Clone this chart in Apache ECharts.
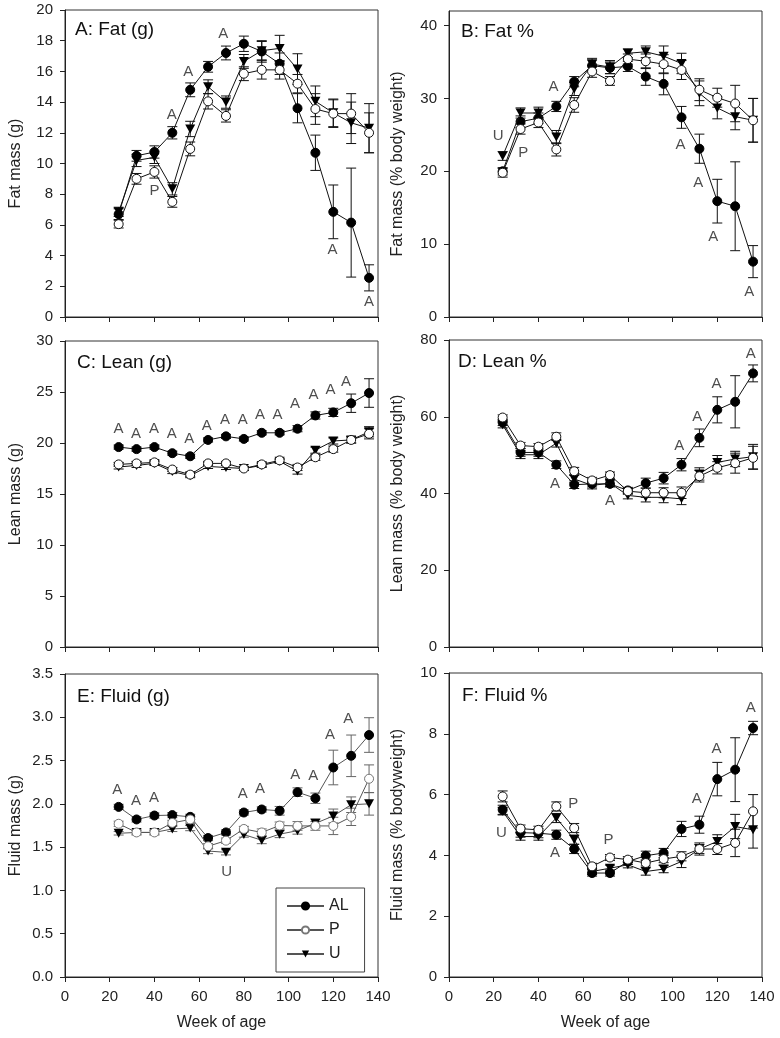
<!DOCTYPE html>
<html>
<head>
<meta charset="utf-8">
<script src="https://cdn.jsdelivr.net/npm/echarts@6/dist/echarts.min.js"></script>
<style>
html,body{margin:0;padding:0;background:#fff;}
#chart{width:780px;height:1038px;}
</style>
</head>
<body>
<div id="chart"></div>
<script>
// ---------------- DATA ----------------
const weeks = [24, 32, 40, 48, 56, 64, 72, 80, 88, 96, 104, 112, 120, 128, 136];
const groups = ['AL', 'P', 'U'];
const xTicks = [0, 20, 40, 60, 80, 100, 120, 140];

// A: Fat (g)
const fatG_AL    = [6.7, 10.5, 10.75, 12.0, 14.8, 16.3, 17.2, 17.8, 17.3, 16.5, 13.6, 10.7, 6.85, 6.15, 2.55];
const fatG_AL_se = [0.35, 0.35, 0.4, 0.4, 0.45, 0.35, 0.45, 0.5, 0.7, 0.7, 0.95, 1.15, 1.75, 3.55, 0.85];
const fatG_P     = [6.05, 9.0, 9.45, 7.5, 10.95, 14.05, 13.1, 15.85, 16.1, 16.1, 15.2, 13.55, 13.25, 13.25, 12.0];
const fatG_P_se  = [0.25, 0.35, 0.4, 0.35, 0.45, 0.5, 0.4, 0.45, 0.6, 0.6, 0.6, 1.0, 0.9, 1.3, 1.3];
const fatG_U     = [6.85, 10.2, 10.4, 8.35, 12.25, 15.0, 14.0, 16.65, 17.35, 17.5, 16.15, 14.05, 13.3, 12.65, 12.3];
const fatG_U_se  = [0.3, 0.4, 0.4, 0.4, 0.5, 0.45, 0.4, 0.45, 0.6, 0.85, 1.0, 1.0, 0.9, 1.35, 1.6];
const fatG_notes = [[47.7, 13.2, 'A'], [55.1, 16.0, 'A'], [70.8, 18.45, 'A'], [40, 8.2, 'P'], [119.7, 4.35, 'A'], [136, 1.0, 'A']];

// B: Fat %
const fatPct_AL    = [20.0, 26.8, 27.3, 28.9, 32.3, 34.5, 34.2, 34.4, 33.0, 32.0, 27.4, 23.1, 15.9, 15.2, 7.6];
const fatPct_AL_se = [0.5, 0.8, 0.7, 0.7, 0.7, 0.8, 0.8, 0.7, 1.2, 1.5, 1.5, 2.0, 3.0, 6.1, 2.2];
const fatPct_P     = [19.8, 25.8, 26.7, 23.0, 29.1, 33.7, 32.4, 35.4, 35.1, 34.7, 33.9, 31.2, 30.1, 29.3, 27.0];
const fatPct_P_se  = [0.6, 0.7, 0.7, 0.9, 1.0, 0.8, 0.6, 0.7, 1.0, 1.3, 1.3, 1.5, 1.3, 2.5, 3.0];
const fatPct_U     = [22.1, 28.0, 28.0, 24.7, 31.3, 34.7, 34.3, 36.2, 36.4, 35.8, 34.8, 30.7, 28.7, 27.5, 27.0];
const fatPct_U_se  = [0.6, 0.7, 0.8, 0.9, 0.9, 0.8, 0.9, 0.6, 0.8, 1.4, 1.4, 1.7, 1.5, 1.8, 3.0];
const fatPct_notes = [[22, 24.8, 'U'], [33.2, 22.5, 'P'], [46.7, 31.6, 'A'], [103.6, 23.6, 'A'], [111.5, 18.4, 'A'], [118.2, 11, 'A'], [134.3, 3.5, 'A']];

// C: Lean (g)
const leanG_AL    = [19.6, 19.4, 19.6, 19.0, 18.7, 20.3, 20.65, 20.4, 21.0, 21.0, 21.4, 22.7, 23.0, 23.9, 24.9];
const leanG_AL_se = [0.2, 0.2, 0.2, 0.2, 0.2, 0.2, 0.2, 0.2, 0.2, 0.2, 0.3, 0.35, 0.4, 0.9, 1.4];
const leanG_P     = [17.9, 18.0, 18.1, 17.4, 16.9, 18.0, 18.0, 17.5, 17.9, 18.3, 17.6, 18.6, 19.4, 20.3, 20.9];
const leanG_P_se  = [0.2, 0.2, 0.2, 0.2, 0.2, 0.2, 0.2, 0.2, 0.2, 0.2, 0.3, 0.3, 0.3, 0.3, 0.5];
const leanG_U     = [17.65, 17.8, 18.0, 17.2, 16.8, 17.7, 17.6, 17.5, 17.8, 18.2, 17.25, 19.3, 20.2, 20.3, 21.1];
const leanG_U_se  = [0.2, 0.2, 0.2, 0.2, 0.2, 0.2, 0.2, 0.2, 0.2, 0.2, 0.3, 0.3, 0.3, 0.3, 0.5];
const leanG_notes = [[23.9, 21.34, 'A'], [31.8, 20.9, 'A'], [39.8, 21.34, 'A'], [47.7, 20.85, 'A'], [55.6, 20.4, 'A'], [63.4, 21.67, 'A'], [71.6, 22.3, 'A'], [79.5, 22.3, 'A'], [87.2, 22.8, 'A'], [95.0, 22.8, 'A'], [102.9, 23.8, 'A'], [111.1, 24.7, 'A'], [118.8, 25.2, 'A'], [125.7, 26.0, 'A']];

// D: Lean %
const leanPct_AL    = [58.5, 50.7, 50.7, 47.5, 42.3, 42.5, 42.5, 40.8, 42.7, 44.0, 47.5, 54.5, 61.8, 63.9, 71.3];
const leanPct_AL_se = [0.8, 1.0, 1.0, 1.0, 1.0, 0.8, 0.8, 0.8, 1.3, 1.5, 1.6, 2.3, 3.4, 6.8, 2.2];
const leanPct_P     = [59.8, 52.5, 52.2, 54.8, 45.8, 43.4, 44.8, 40.6, 40.2, 40.2, 40.2, 44.5, 46.7, 47.9, 49.3];
const leanPct_P_se  = [0.7, 0.8, 0.8, 1.0, 1.0, 0.8, 0.8, 0.8, 1.2, 1.3, 1.5, 1.5, 1.6, 2.6, 3.0];
const leanPct_U     = [57.9, 50.1, 50.1, 53.1, 43.8, 42.1, 42.7, 39.5, 39.0, 39.0, 38.6, 45.1, 48.1, 49.0, 49.6];
const leanPct_U_se  = [0.8, 1.0, 1.0, 1.0, 1.0, 0.9, 0.9, 0.9, 1.2, 1.4, 1.5, 1.6, 1.8, 2.0, 3.2];
const leanPct_notes = [[47.4, 42.5, 'A'], [72, 38.2, 'A'], [103, 52.5, 'A'], [111, 60, 'A'], [119.7, 68.5, 'A'], [135, 76.5, 'A']];

// E: Fluid (g)
const fluidG_AL    = [1.965, 1.82, 1.865, 1.87, 1.85, 1.605, 1.67, 1.90, 1.935, 1.92, 2.135, 2.065, 2.42, 2.555, 2.795];
const fluidG_AL_se = [0.03, 0.03, 0.03, 0.03, 0.03, 0.03, 0.03, 0.03, 0.03, 0.05, 0.05, 0.06, 0.2, 0.24, 0.2];
const fluidG_P     = [1.77, 1.67, 1.67, 1.78, 1.82, 1.51, 1.575, 1.71, 1.67, 1.75, 1.745, 1.745, 1.745, 1.85, 2.29];
const fluidG_P_se  = [0.03, 0.03, 0.03, 0.03, 0.03, 0.03, 0.03, 0.03, 0.04, 0.04, 0.05, 0.05, 0.1, 0.1, 0.16];
const fluidG_U     = [1.66, 1.67, 1.67, 1.71, 1.72, 1.455, 1.44, 1.645, 1.58, 1.65, 1.69, 1.775, 1.86, 1.99, 2.0];
const fluidG_U_se  = [0.02, 0.02, 0.02, 0.03, 0.03, 0.03, 0.03, 0.03, 0.04, 0.04, 0.04, 0.05, 0.08, 0.09, 0.13];
const fluidG_notes = [[23.4, 2.16, 'A'], [31.8, 2.035, 'A'], [39.8, 2.07, 'A'], [72.3, 1.22, 'U'], [79.5, 2.11, 'A'], [87.2, 2.17, 'A'], [103, 2.34, 'A'], [111, 2.32, 'A'], [118.5, 2.8, 'A'], [126.7, 2.98, 'A']];

// F: Fluid %
const fluidPct_AL    = [5.5, 4.75, 4.73, 4.68, 4.21, 3.42, 3.42, 3.80, 3.99, 4.08, 4.87, 5.01, 6.51, 6.82, 8.19];
const fluidPct_AL_se = [0.15, 0.15, 0.15, 0.15, 0.15, 0.1, 0.1, 0.1, 0.15, 0.15, 0.25, 0.28, 0.55, 1.05, 0.22];
const fluidPct_P     = [5.94, 4.88, 4.84, 5.61, 4.90, 3.64, 3.93, 3.86, 3.75, 3.88, 3.97, 4.21, 4.21, 4.41, 5.45];
const fluidPct_P_se  = [0.18, 0.12, 0.12, 0.15, 0.15, 0.1, 0.1, 0.1, 0.1, 0.12, 0.15, 0.15, 0.18, 0.45, 0.55];
const fluidPct_U     = [5.45, 4.62, 4.62, 5.23, 4.52, 3.47, 3.58, 3.69, 3.47, 3.55, 3.80, 4.21, 4.46, 4.95, 4.84];
const fluidPct_U_se  = [0.12, 0.12, 0.12, 0.15, 0.15, 0.1, 0.1, 0.1, 0.12, 0.12, 0.2, 0.2, 0.22, 0.4, 0.6];
const fluidPct_notes = [[23.5, 4.73, 'U'], [55.6, 5.7, 'P'], [47.4, 4.1, 'A'], [71.3, 4.5, 'P'], [110.8, 5.85, 'A'], [119.7, 7.5, 'A'], [135, 8.84, 'A']];

// ---------------- LAYOUT / STYLE ----------------
const FONT = '"Liberation Sans", Arial, Helvetica, sans-serif';
const panels = [
  { title: 'A: Fat (g)', yName: 'Fat mass (g)', min: 0, max: 20, interval: 2, dec: 0,
    means: [fatG_AL, fatG_P, fatG_U], ses: [fatG_AL_se, fatG_P_se, fatG_U_se], notes: fatG_notes,
    grid: { left: 65, top: 10, width: 313, height: 307 }, tpos: [75, 20], bottom: false, gap: 41 },
  { title: 'B: Fat %', yName: 'Fat mass (% body weight)', min: 0, max: 42, interval: 10, dec: 0, hideMax: true,
    means: [fatPct_AL, fatPct_P, fatPct_U], ses: [fatPct_AL_se, fatPct_P_se, fatPct_U_se], notes: fatPct_notes,
    grid: { left: 449, top: 11, width: 313, height: 306 }, tpos: [461, 22], bottom: false, gap: 43 },
  { title: 'C: Lean (g)', yName: 'Lean mass (g)', min: 0, max: 30, interval: 5, dec: 0,
    means: [leanG_AL, leanG_P, leanG_U], ses: [leanG_AL_se, leanG_P_se, leanG_U_se], notes: leanG_notes,
    grid: { left: 65, top: 341, width: 313, height: 306 }, tpos: [77, 353], bottom: false, gap: 41 },
  { title: 'D: Lean %', yName: 'Lean mass (% body weight)', min: 0, max: 80, interval: 20, dec: 0,
    means: [leanPct_AL, leanPct_P, leanPct_U], ses: [leanPct_AL_se, leanPct_P_se, leanPct_U_se], notes: leanPct_notes,
    grid: { left: 449, top: 340, width: 313, height: 307 }, tpos: [458, 352], bottom: false, gap: 43 },
  { title: 'E: Fluid (g)', yName: 'Fluid mass (g)', min: 0, max: 3.5, interval: 0.5, dec: 1, grey: true,
    means: [fluidG_AL, fluidG_P, fluidG_U], ses: [fluidG_AL_se, fluidG_P_se, fluidG_U_se], notes: fluidG_notes,
    grid: { left: 65, top: 674, width: 313, height: 303 }, tpos: [77, 687], bottom: true, gap: 41 },
  { title: 'F: Fluid %', yName: 'Fluid mass (% bodyweight)', min: 0, max: 10, interval: 2, dec: 0,
    means: [fluidPct_AL, fluidPct_P, fluidPct_U], ses: [fluidPct_AL_se, fluidPct_P_se, fluidPct_U_se], notes: fluidPct_notes,
    grid: { left: 449, top: 673, width: 313, height: 304 }, tpos: [462, 686], bottom: true, gap: 43 }
];

const TRI = 'path://M0,0L10,0L5,9Z';

function seriesStyle(g, grey) {
  const line = grey ? '#555' : '#111';
  if (g === 0) return { symbol: 'circle', symbolSize: 9, itemStyle: { color: '#000', borderColor: '#000', borderWidth: 1 }, lineStyle: { color: line, width: 1 } };
  if (g === 1) return { symbol: 'circle', symbolSize: 9, itemStyle: { color: '#fff', borderColor: grey ? '#777' : '#111', borderWidth: 1 }, lineStyle: { color: line, width: 1 } };
  return { symbol: TRI, symbolSize: [10, 9], itemStyle: { color: '#000', borderColor: '#000', borderWidth: 0 }, lineStyle: { color: line, width: 1 } };
}

function errRender(color) {
  return function (params, api) {
    const lo = api.coord([api.value(0), api.value(1)]);
    const hi = api.coord([api.value(0), api.value(2)]);
    const c = 5;
    const st = { stroke: color, lineWidth: 1 };
    return { type: 'group', children: [
      { type: 'line', shape: { x1: lo[0], y1: lo[1], x2: hi[0], y2: hi[1] }, style: st },
      { type: 'line', shape: { x1: lo[0] - c, y1: lo[1], x2: lo[0] + c, y2: lo[1] }, style: st },
      { type: 'line', shape: { x1: hi[0] - c, y1: hi[1], x2: hi[0] + c, y2: hi[1] }, style: st }
    ] };
  };
}

const grids = [], xAxes = [], yAxes = [], titles = [], series = [];
// E panel first in the series list so the legend takes its styling
const order = [4, 0, 1, 2, 3, 5];
panels.forEach((p, i) => {
  grids.push(Object.assign({ show: true, borderColor: '#333', borderWidth: 1, backgroundColor: 'transparent' }, p.grid));
  xAxes.push({
    gridIndex: i, type: 'value', min: 0, max: 140, interval: 20,
    axisLine: { show: true, onZero: false, lineStyle: { color: '#222', width: 1 } },
    axisTick: { show: true, inside: false, length: 5, lineStyle: { color: '#222' } },
    splitLine: { show: false },
    axisLabel: { show: p.bottom, fontSize: 15, color: '#222', margin: 12, fontFamily: FONT },
    name: p.bottom ? 'Week of age' : '', nameLocation: 'middle', nameGap: 38,
    nameTextStyle: { fontSize: 16, color: '#222', fontFamily: FONT }
  });
  yAxes.push({
    gridIndex: i, type: 'value', min: p.min, max: p.max, interval: p.interval,
    axisLine: { show: true, onZero: false, lineStyle: { color: '#222', width: 1 } },
    axisTick: { show: true, inside: false, length: 5, lineStyle: { color: '#222' } },
    splitLine: { show: false },
    axisLabel: { fontSize: 15, color: '#222', margin: 12, fontFamily: FONT, showMaxLabel: !p.hideMax,
      formatter: v => v.toFixed(p.dec) },
    name: p.yName, nameLocation: 'middle', nameGap: p.gap,
    nameTextStyle: { fontSize: 16, color: '#222', fontFamily: FONT }
  });
  titles.push({ text: p.title, left: p.tpos[0], top: p.tpos[1], padding: 0,
    textStyle: { fontSize: 19, fontWeight: 'normal', color: '#111', fontFamily: FONT } });
});

order.forEach(i => {
  const p = panels[i];
  const ebColor = p.grey ? '#666' : '#111';
  [2, 1, 0].forEach(g => {
    series.push({
      type: 'custom', name: groups[g] + ' SE', xAxisIndex: i, yAxisIndex: i, silent: true, z: 2,
      renderItem: errRender(ebColor),
      encode: { x: 0, y: [1, 2] },
      data: weeks.map((w, k) => [w, p.means[g][k] - p.ses[g][k], p.means[g][k] + p.ses[g][k]])
    });
  });
  [0, 1, 2].forEach(g => {
    series.push(Object.assign({
      type: 'line', name: groups[g], xAxisIndex: i, yAxisIndex: i, z: 3 + (g === 0 ? 0 : (g === 2 ? 1 : 2)),
      animation: false, showAllSymbol: true,
      data: weeks.map((w, k) => [w, p.means[g][k]])
    }, seriesStyle(g, p.grey)));
  });
  series.push({
    type: 'scatter', name: 'notes', xAxisIndex: i, yAxisIndex: i, z: 6, silent: true,
    symbol: 'circle', symbolSize: 1, itemStyle: { color: 'rgba(0,0,0,0)' },
    label: { show: true, position: 'inside', formatter: d => d.value[2], fontSize: 15, color: '#222', fontFamily: FONT },
    data: p.notes
  });
});

const chart = echarts.init(document.getElementById('chart'), null, { renderer: 'canvas' });
chart.setOption({
  animation: false,
  backgroundColor: '#fff',
  textStyle: { fontFamily: FONT },
  title: titles,
  grid: grids,
  xAxis: xAxes,
  yAxis: yAxes,
  legend: {
    data: groups, orient: 'vertical', left: 276, top: 888,
    itemWidth: 37, itemHeight: 9, itemGap: 8,
    padding: [10, 16, 10, 10],
    borderColor: '#444', borderWidth: 1, backgroundColor: '#fff',
    textStyle: { fontSize: 16, color: '#222', fontFamily: FONT },
    selectedMode: false
  },
  series: series
});
</script>
</body>
</html>
